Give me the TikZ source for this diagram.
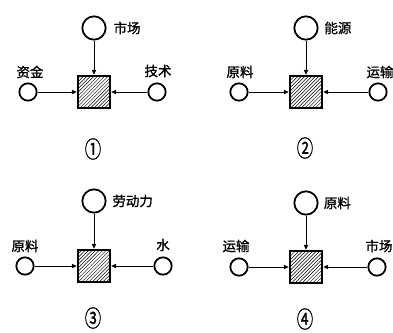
\documentclass[tikz,border=0pt]{standalone}
\usepackage{fontspec}
\newfontfamily\cjk[FakeBold=1.2]{Noto Sans CJK SC}
\usetikzlibrary{patterns,arrows.meta}

\begin{document}
\begin{tikzpicture}[x=.03cm, y=-.03cm,
    every node/.style={font=\cjk\fontsize{11.5}{13}\selectfont},
    plant/.style={draw, line width=1.7pt, pattern=north east lines,
                  minimum size=.98cm, inner sep=0},
    big/.style={circle, draw, line width=1.5pt, minimum size=.7cm, inner sep=0},
    small/.style={circle, draw, line width=1.5pt, minimum size=.52cm, inner sep=0},
    flow/.style={line width=.7pt, -{Triangle[length=4pt,width=3.6pt]}},
    num/.style={font=\cjk\fontsize{14}{14}\selectfont}]
  \useasboundingbox (0,0) rectangle (393,332);

  % panel 1
  \node[plant] (B1) at (94,92)  {};
  \node[big]   (T1) at (94,28)  {};
  \node[small] (L1) at (28,92)  {};
  \node[small] (R1) at (157,92) {};
  \draw[flow] (T1)--(B1);
  \draw[flow] (L1)--(B1);
  \draw[flow] (R1)--(B1);
  \node[anchor=west] at ([xshift=2.5pt]T1.east) {市场};
  \node at (30,72)  {资金};
  \node at (158,71) {技术};
  \node[num] at (93,149) {\scalebox{1}[1.4]{①}};

  % panel 2
  \node[plant] (B2) at (306,92) {};
  \node[big]   (T2) at (306,28) {};
  \node[small] (L2) at (239,92) {};
  \node[small] (R2) at (378,92) {};
  \draw[flow] (T2)--(B2);
  \draw[flow] (L2)--(B2);
  \draw[flow] (R2)--(B2);
  \node[anchor=west] at ([xshift=1.5pt]T2.east) {能源};
  \node at (380,72) {运输};
  \node at (240,72) {原料};
  \node[num] at (305,148) {\scalebox{1}[1.4]{②}};

  % panel 3
  \node[plant] (B3) at (94,266)  {};
  \node[big]   (T3) at (94,201)  {};
  \node[small] (L3) at (25,266)  {};
  \node[small] (R3) at (163,266) {};
  \draw[flow] (T3)--(B3);
  \draw[flow] (L3)--(B3);
  \draw[flow] (R3)--(B3);
  \node[anchor=west] at ([xshift=1.5pt]T3.east) {劳动力};
  \node at (25,246)  {原料};
  \node at (163,245) {水};
  \node[num] at (93,318) {\scalebox{1}[1.4]{③}};

  % panel 4
  \node[plant] (B4) at (306,267) {};
  \node[big]   (T4) at (306,203) {};
  \node[small] (L4) at (239,267) {};
  \node[small] (R4) at (377,267) {};
  \draw[flow] (T4)--(B4);
  \draw[flow] (L4)--(B4);
  \draw[flow] (R4)--(B4);
  \node[anchor=west] at ([xshift=1pt]T4.east) {原料};
  \node at (236,246) {运输};
  \node at (379,246) {市场};
  \node[num] at (305,319) {\scalebox{1}[1.4]{④}};
\end{tikzpicture}
\end{document}
